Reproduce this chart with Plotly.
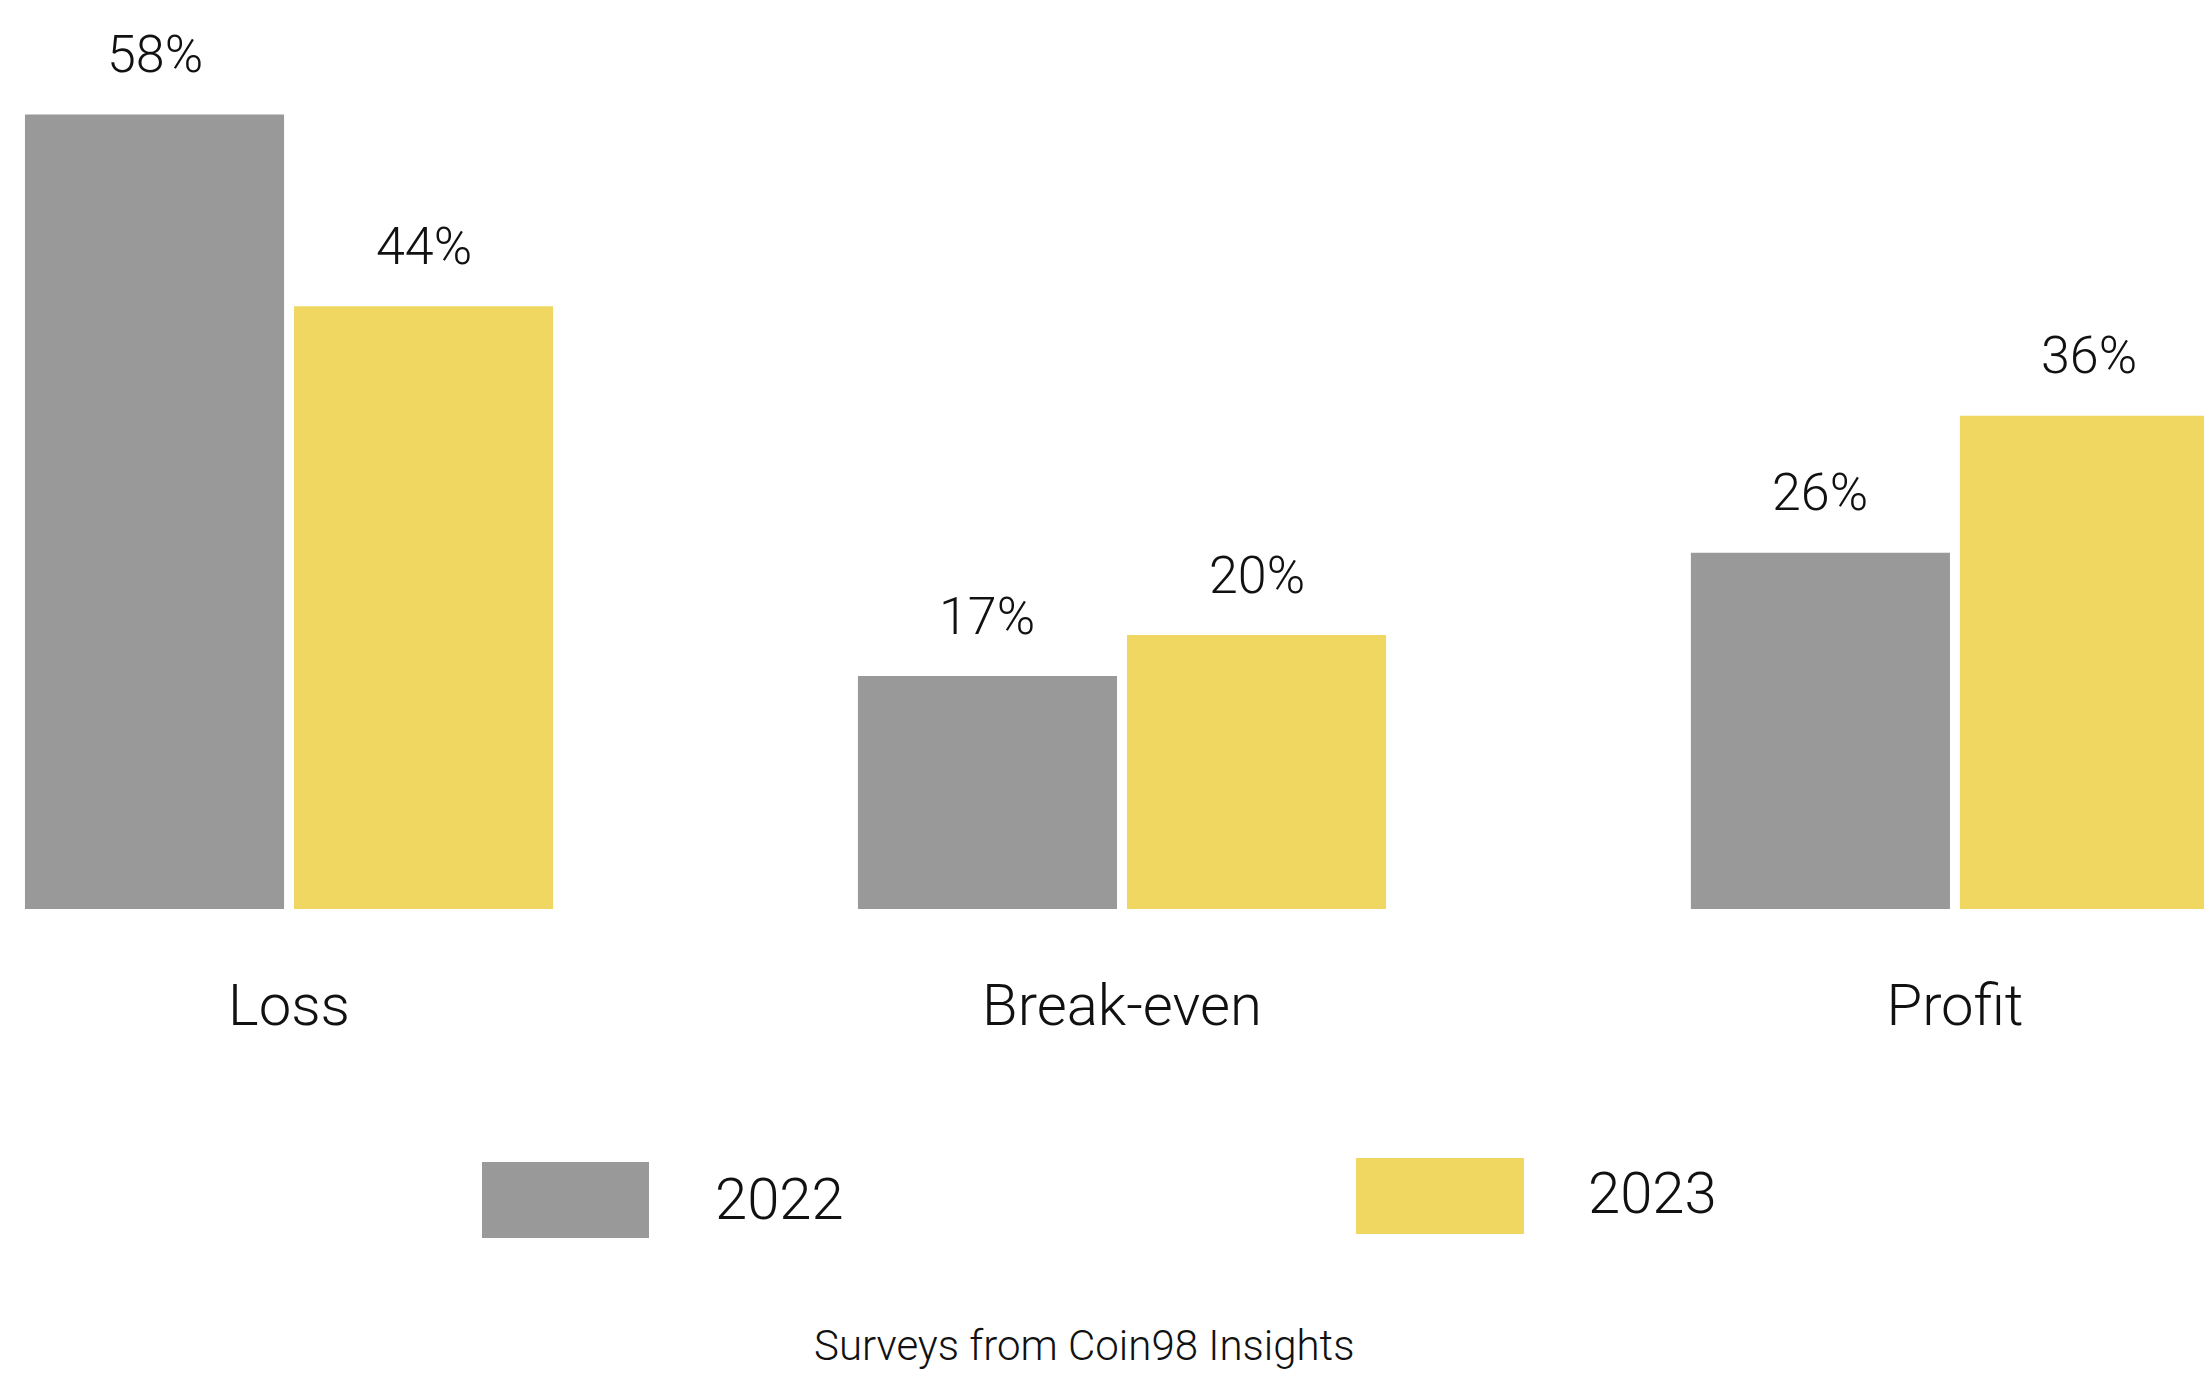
import plotly.graph_objects as go

# ---- data ----
categories = ["Loss", "Break-even", "Profit"]
years = ["2022", "2023"]
values_2022 = [58, 17, 26]
values_2023 = [44, 20, 36]
source_text = "Surveys from Coin98 Insights"

# ---- style ----
colors = {"2022": "#999999", "2023": "#F0D762"}
FONT = "Roboto"
W, H = 2204, 1373
BASE = 909          # pixel row of the bar baseline
PX_PER_PCT = 13.7
bargap = 0.354
bargroupgap = 0.037


def py(pixel_y):
    """pixel row -> paper y (plot area spans rows 0..BASE)"""
    return (BASE - pixel_y) / BASE


def px(pixel_x):
    return pixel_x / W


fig = go.Figure()
series = [values_2022, values_2023]
for yr, vals in zip(years, series):
    fig.add_trace(go.Bar(
        x=categories, y=vals, name=yr,
        marker=dict(color=colors[yr], line=dict(width=0)),
        showlegend=False,
    ))

# value labels above bars
slot = (1 - bargap) / len(years)
annotations = []
for i, (yr, vals) in enumerate(zip(years, series)):
    off = (i - (len(years) - 1) / 2) * slot
    for j, v in enumerate(vals):
        annotations.append(dict(
            x=j + off, y=v, xref="x", yref="y",
            text=f"{v}%", showarrow=False,
            yanchor="middle", yshift=60,
            font=dict(family=FONT, size=52, color="#111111", weight=300),
        ))

# custom legend (large swatches)
legend_items = [
    ("2022", 482, 649, 1162, 1238, 713, 1199),
    ("2023", 1356, 1524, 1158, 1234, 1586, 1193),
]
shapes = []
for yr, x0, x1, y0, y1, tx, ty in legend_items:
    shapes.append(dict(
        type="rect", xref="paper", yref="paper",
        x0=px(x0), x1=px(x1), y0=py(y1), y1=py(y0),
        fillcolor=colors[yr], line=dict(width=0),
    ))
    annotations.append(dict(
        x=px(tx), y=py(ty), xref="paper", yref="paper",
        text=yr, showarrow=False, xanchor="left", yanchor="middle",
        font=dict(family=FONT, size=58, color="#111111", weight=300),
    ))

annotations.append(dict(
    x=px(1084), y=py(1345), xref="paper", yref="paper",
    text=source_text, showarrow=False, xanchor="center", yanchor="middle",
    font=dict(family=FONT, size=42, color="#111111", weight=300),
))

fig.update_layout(
    width=W, height=H,
    margin=dict(l=0, r=0, t=0, b=H - BASE, pad=0, autoexpand=False),
    paper_bgcolor="white", plot_bgcolor="white",
    barmode="group", bargap=bargap, bargroupgap=bargroupgap,
    annotations=annotations, shapes=shapes,
    showlegend=False,
)
fig.update_xaxes(
    range=[-0.347, 2.299], showgrid=False, zeroline=False, showline=False,
    ticks="", ticklabelstandoff=57, automargin=False,
    tickfont=dict(family=FONT, size=58, color="#111111", weight=300),
)
fig.update_yaxes(
    range=[0, BASE / PX_PER_PCT], visible=False, showgrid=False, zeroline=False,
    automargin=False,
)

fig.write_html(
    "out.html",
    config={"displayModeBar": False},
    post_script="document.body.style.margin='0';document.body.style.overflow='hidden';",
)
